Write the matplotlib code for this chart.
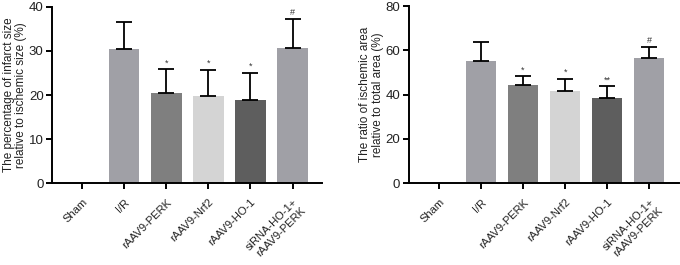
import matplotlib
matplotlib.use('Agg')
import matplotlib.pyplot as plt
import numpy as np

plt.rcParams['font.family'] = ['Liberation Sans', 'DejaVu Sans']

groups = ['Sham', 'I/R', 'rAAV9-PERK', 'rAAV9-Nrf2', 'rAAV9-HO-1', 'siRNA-HO-1+\nrAAV9-PERK']
bar_colors = ['#a0a0a6', '#a0a0a6', '#7f7f7f', '#d4d4d4', '#5e5e5e', '#a0a0a6']

infarct_mean = [0, 30.5, 20.5, 19.8, 18.9, 30.7]
infarct_err = [0, 6.0, 5.3, 5.8, 6.2, 6.5]
infarct_marks = ['', '', '*', '*', '*', '#']

ischemic_mean = [0, 55.3, 44.3, 41.7, 38.6, 56.5]
ischemic_err = [0, 8.5, 3.9, 5.5, 5.1, 4.9]
ischemic_marks = ['', '', '*', '*', '**', '#']


def draw_panel(ax, means, errs, marks, ymax, ystep, ylabel):
    x = np.arange(len(groups))
    ax.bar(x, means, width=0.72, color=bar_colors, zorder=2)
    ax.errorbar(x[1:], means[1:], yerr=[np.zeros(len(x) - 1), errs[1:]],
                fmt='none', ecolor='black', elinewidth=1.3, capsize=5.5,
                capthick=1.3, zorder=3)
    for xi, m, e, s in zip(x, means, errs, marks):
        if s:
            ax.text(xi, m + e + ymax * 0.012, s, ha='center', va='bottom',
                    fontsize=6.5, color='#333333')
    ax.set_ylim(0, ymax)
    ax.set_yticks(np.arange(0, ymax + 1, ystep))
    ax.set_xlim(-0.72, 5.7)
    ax.set_xticks(x)
    ax.set_xticklabels(groups, rotation=45, ha='right', rotation_mode='anchor',
                       fontsize=8, color='#222222', linespacing=1.15)
    ax.set_ylabel(ylabel, fontsize=8.5, color='#222222', linespacing=1.1,
                  labelpad=1)
    ax.spines['top'].set_visible(False)
    ax.spines['right'].set_visible(False)
    ax.spines['left'].set_linewidth(1.4)
    ax.spines['bottom'].set_linewidth(1.4)
    ax.tick_params(axis='both', width=1.4, length=4, color='black')
    ax.tick_params(axis='x', pad=6)
    ax.tick_params(axis='y', labelsize=9.5, labelcolor='#222222', pad=2)


fig = plt.figure(figsize=(6.8, 2.65), dpi=100)
ax1 = fig.add_axes([0.0765, 0.309, 0.397, 0.665])
ax2 = fig.add_axes([0.601, 0.309, 0.397, 0.668])

draw_panel(ax1, infarct_mean, infarct_err, infarct_marks, 40, 10,
           'The percentage of infarct size\nrelative to ischemic size (%)')
draw_panel(ax2, ischemic_mean, ischemic_err, ischemic_marks, 80, 20,
           'The ratio of ischemic area\nrelative to total area (%)')

fig.savefig('out.png', dpi=100)
